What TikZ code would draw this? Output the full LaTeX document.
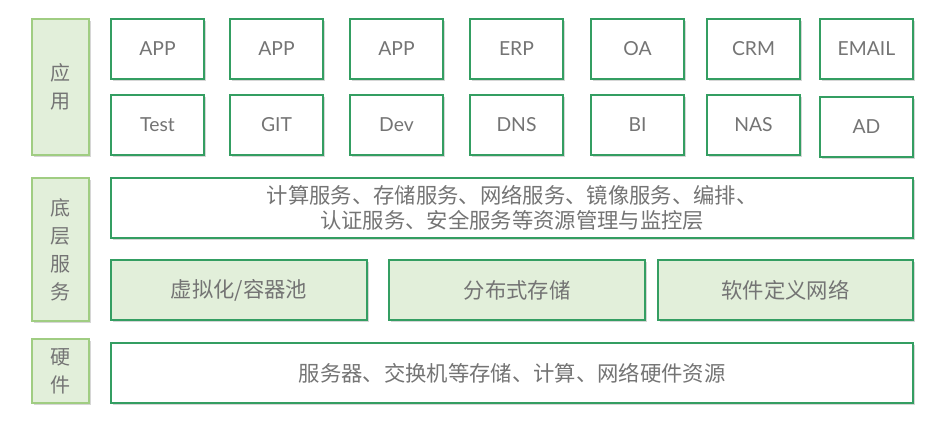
\documentclass[tikz,border=0pt]{standalone}
\usepackage{fontspec}
\setmainfont{Lato}
\newfontfamily\cjk{Noto Sans CJK SC}
\usetikzlibrary{shadows}
\definecolor{bgreen}{RGB}{52,158,98}
\definecolor{lfill}{RGB}{226,239,218}
\definecolor{lborder}{RGB}{160,205,130}
\definecolor{txt}{RGB}{116,116,116}
\begin{document}
\begin{tikzpicture}[x=0.75pt,y=-0.75pt,
  every node/.style={inner sep=0pt,outer sep=0pt,anchor=north west,text=txt},
  shad/.style={drop shadow={shadow xshift=1.6pt,shadow yshift=-1.6pt,opacity=0.35,fill=black!45}},
  appbox/.style={draw=bgreen,line width=0.8pt,fill=white,shad,minimum width=93*0.75pt,minimum height=60*0.75pt,font=\fontsize{14.5}{17}\selectfont},
  layerlbl/.style={draw=lborder,line width=0.8pt,fill=lfill,shad,minimum width=57*0.75pt,align=center,font=\cjk\fontsize{15}{21}\selectfont},
  widebox/.style={draw=bgreen,line width=0.8pt,fill=white,shad,align=center,font=\cjk\fontsize{16}{18.5}\selectfont},
  midbox/.style={draw=bgreen,line width=0.8pt,fill=lfill,shad,minimum height=60*0.75pt,font=\cjk\fontsize{16}{18}\selectfont}
]
\useasboundingbox[fill=white] (0,0) rectangle (950,427);
% layer labels
\node[layerlbl,minimum height=136*0.75pt] (lapp) at (32,19) {应\\用};
\node[layerlbl,minimum height=143*0.75pt] (lbase) at (32,178) {底\\层\\服\\务};
\node[layerlbl,minimum height=64*0.75pt] (lhw) at (32,339) {硬\\件};
% application row 1
\node[appbox] (a1) at (111,19) {APP};
\node[appbox] (a2) at (230,19) {APP};
\node[appbox] (a3) at (350,19) {APP};
\node[appbox] (a4) at (470,19) {ERP};
\node[appbox] (a5) at (591,19) {OA};
\node[appbox] (a6) at (707,19) {CRM};
\node[appbox] (a7) at (820,19) {EMAIL};
% application row 2
\node[appbox] (b1) at (111,95) {Test};
\node[appbox] (b2) at (230,95) {GIT};
\node[appbox] (b3) at (350,95) {Dev};
\node[appbox] (b4) at (470,95) {DNS};
\node[appbox] (b5) at (591,95) {BI};
\node[appbox] (b6) at (707,95) {NAS};
\node[appbox] (b7) at (820,97) {AD};
% base services
\node[widebox,minimum width=802*0.75pt,minimum height=60*0.75pt] (mgmt) at (111,178)
  {计算服务、存储服务、网络服务、镜像服务、编排、\\认证服务、安全服务等资源管理与监控层};
\node[midbox,minimum width=256*0.75pt] (virt) at (111,260) {虚拟化/容器池};
\node[midbox,minimum width=256*0.75pt] (stor) at (389,260) {分布式存储};
\node[midbox,minimum width=255*0.75pt] (sdn) at (658,260) {软件定义网络};
% hardware
\node[widebox,minimum width=802*0.75pt,minimum height=60*0.75pt] (hw) at (111,343)
  {服务器、交换机等存储、计算、网络硬件资源};
\end{tikzpicture}
\end{document}
